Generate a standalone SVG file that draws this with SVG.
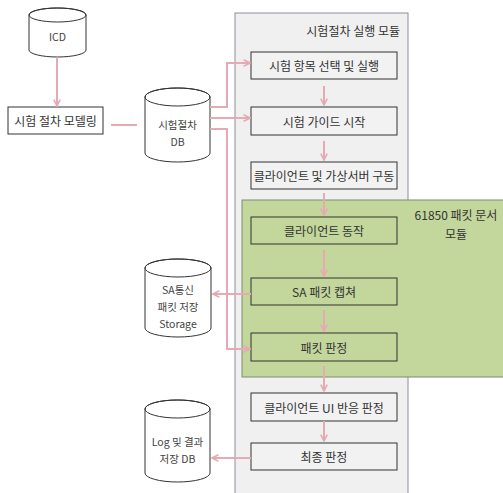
<svg xmlns="http://www.w3.org/2000/svg" width="503" height="493" viewBox="0 0 503 493">
<style>
.t{font-family:"Noto Sans CJK KR","Noto Sans",sans-serif;font-size:12px;fill:#333;text-anchor:middle;dominant-baseline:central}
.s{font-size:10.5px;fill:#444}
.box{fill:#f2f2f2;stroke:#333;stroke-width:1}
.gbox{fill:#c3d69b;stroke:#333;stroke-width:1}
.cyl{fill:#fff;stroke:#333;stroke-width:1}
.c{fill:none;stroke:#e6aab5;stroke-width:2}
</style>
<defs>
<marker id="ah" viewBox="0 0 10 10" refX="9" refY="5" markerWidth="4" markerHeight="4" orient="auto-start-reverse">
<path d="M1,1 L9,5 L1,9" fill="none" stroke="#e6aab5" stroke-width="2"/>
</marker>
</defs>
<rect width="503" height="493" fill="#fff"/>
<g id="module">
<rect x="235" y="13" width="173" height="485" fill="#f0f0f0" stroke="#8a8f9a" stroke-width="1"/>
<text class="t" x="400" y="30" style="text-anchor:end">시험절차 실행 모듈</text>
</g>
<g id="packet-module">
<rect x="242" y="200" width="265" height="177" fill="#c3d69b" stroke="#7f8c72" stroke-width="1"/>
<text class="t" x="456" y="214">61850 패킷 문서</text>
<text class="t" x="456" y="233">모듈</text>
</g>
<g id="icd">
<path class="cyl" d="M29,15 L29,50 A28.5,7 0 0 0 86,50 L86,15 A28.5,7 0 0 0 29,15 Z"/>
<ellipse cx="57.5" cy="15" rx="28.5" ry="7" fill="none" stroke="#333"/>
<text class="t s" x="57.5" y="36">ICD</text>
</g>
<g id="modeling">
<rect class="box" x="8" y="107" width="95" height="27" style="fill:#fff"/>
<text class="t" x="55.5" y="120.5">시험 절차 모델링</text>
</g>
<g id="db">
<path class="cyl" d="M145,97 L145,153 A32.5,9 0 0 0 210,153 L210,97 A32.5,9 0 0 0 145,97 Z"/>
<ellipse cx="177.5" cy="97" rx="32.5" ry="9" fill="none" stroke="#333"/>
<text class="t s" x="177.5" y="124">시험절차</text>
<text class="t s" x="177.5" y="141">DB</text>
</g>
<g id="sa-storage">
<path class="cyl" d="M145,268 L145,328 A33,9 0 0 0 211,328 L211,268 A33,9 0 0 0 145,268 Z"/>
<ellipse cx="178" cy="268" rx="33" ry="9" fill="none" stroke="#333"/>
<text class="t s" x="178" y="289">SA통신</text>
<text class="t s" x="178" y="306">패킷 저장</text>
<text class="t s" x="178" y="323">Storage</text>
</g>
<g id="log-db">
<path class="cyl" d="M145,409 L145,473 A32.5,9 0 0 0 210,473 L210,409 A32.5,9 0 0 0 145,409 Z"/>
<ellipse cx="177.5" cy="409" rx="32.5" ry="9" fill="none" stroke="#333"/>
<text class="t s" x="177.5" y="441">Log 및 결과</text>
<text class="t s" x="177.5" y="458">저장 DB</text>
</g>
<g id="step1"><rect class="box" x="251" y="52" width="146" height="27"/><text class="t" x="324" y="65.5">시험 항목 선택 및 실행</text></g>
<g id="step2"><rect class="box" x="251" y="107" width="146" height="28"/><text class="t" x="324" y="121">시험 가이드 시작</text></g>
<g id="step3"><rect class="box" x="251" y="162" width="146" height="27"/><text class="t" x="324" y="175.5">클라이언트 및 가상서버 구동</text></g>
<g id="step4"><rect class="gbox" x="251" y="217" width="146" height="27"/><text class="t" x="324" y="230.5">클라이언트 동작</text></g>
<g id="step5"><rect class="gbox" x="251" y="278" width="146" height="27"/><text class="t" x="324" y="291.5">SA 패킷 캡쳐</text></g>
<g id="step6"><rect class="gbox" x="251" y="333" width="146" height="28"/><text class="t" x="324" y="347">패킷 판정</text></g>
<g id="step7"><rect class="box" x="251" y="393" width="146" height="28"/><text class="t" x="324" y="407">클라이언트 UI 반응 판정</text></g>
<g id="step8"><rect class="box" x="251" y="443" width="146" height="27"/><text class="t" x="324" y="456.5">최종 판정</text></g>
<g id="connectors">
<path class="c" d="M57,57 L57,106" marker-end="url(#ah)"/>
<path class="c" d="M111,125 L137,125"/>
<path class="c" d="M210,107 L227,107 L227,63 L250,63" marker-end="url(#ah)"/>
<path class="c" d="M210,118 L250,118" marker-end="url(#ah)"/>
<path class="c" d="M210,129 L227,129 L227,349 L250,349" marker-end="url(#ah)"/>
<path class="c" d="M251,294 L213,294" marker-end="url(#ah)"/>
<path class="c" d="M251,458 L212,458" marker-end="url(#ah)"/>
<path class="c" d="M324,86 L324,105" marker-end="url(#ah)"/>
<path class="c" d="M324,141 L324,160" marker-end="url(#ah)"/>
<path class="c" d="M324,193 L324,215" marker-end="url(#ah)"/>
<path class="c" d="M324,250 L324,276" marker-end="url(#ah)"/>
<path class="c" d="M324,310 L324,331" marker-end="url(#ah)"/>
<path class="c" d="M324,366 L324,391" marker-end="url(#ah)"/>
<path class="c" d="M324,421 L324,441" marker-end="url(#ah)"/>
</g>
</svg>
